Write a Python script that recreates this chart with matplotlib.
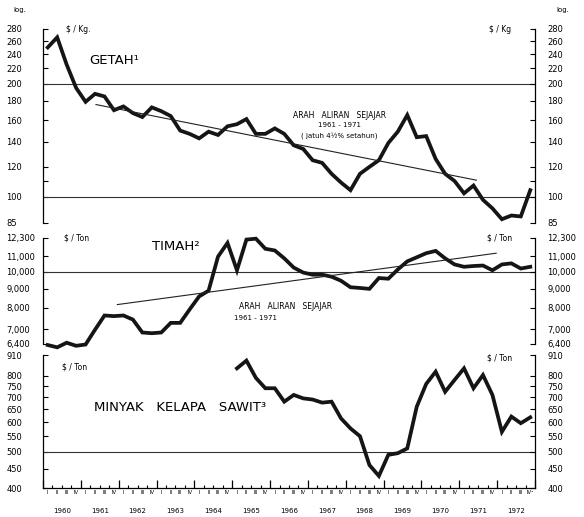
import numpy as np
import matplotlib
matplotlib.use("Agg")
import matplotlib.pyplot as plt
from matplotlib.ticker import FixedLocator, NullLocator, NullFormatter

plt.rcParams['font.family'] = ['DejaVu Sans']

# quarters 1960 I .. 1972 IV
years = list(range(1960, 1973))
quarters = ['I', 'II', 'III', 'IV']

# Getah (rubber), $/Kg, 52 quarters
getah = [250, 266, 225, 195, 179, 188, 185, 170, 174, 167, 163, 173, 169, 164,
         150, 147, 143, 149, 146, 154, 156, 161, 147, 147, 152, 147, 137, 134,
         125, 123, 115, 109, 104, 115, 120, 125, 139, 149, 165, 144, 145, 126,
         115, 110, 102, 107, 98, 93, 87, 89, 88.5, 104]
getah_trend_x = [5.6, 45.8]
getah_trend_y = [176, 110.6]

# Timah (tin), $/Ton
timah = [6360, 6270, 6450, 6330, 6380, 6990, 7630, 7600, 7630, 7440, 6870, 6840,
         6870, 7290, 7290, 7920, 8580, 8890, 10970, 11930, 10080, 12180, 12250,
         11510, 11390, 10850, 10250, 9940, 9810, 9810, 9690, 9450, 9080, 9040,
         8990, 9610, 9570, 10130, 10650, 10920, 11200, 11360, 10850, 10450, 10300,
         10350, 10380, 10080, 10450, 10520, 10190, 10300]
timah_trend_x = [7.86, 47.9]
timah_trend_y = [8160, 11200]

# Minyak kelapa sawit (palm oil), $/Ton, from 1965 I
sawit_start = 20
sawit = [838, 879, 790, 741, 741, 682, 711, 696, 691, 678, 682, 615, 578, 551,
         461, 431, 491, 496, 511, 661, 761, 821, 725, 780, 838, 741, 804, 711,
         566, 622, 597, 619]

getah_ticks = [85, 100, 110, 120, 140, 160, 180, 200, 220, 240, 260, 280]
getah_labels = ['85', '100', '', '120', '140', '160', '180', '200', '220', '240', '260', '280']
timah_ticks = [6400, 7000, 8000, 9000, 10000, 11000, 12300]
timah_labels = ['6,400', '7,000', '8,000', '9,000', '10,000', '11,000', '12,300']
sawit_ticks = [400, 450, 500, 550, 600, 650, 700, 750, 800, 910]
sawit_labels = ['400', '450', '500', '550', '600', '650', '700', '750', '800', '910']

W, H = 584, 517
fig = plt.figure(figsize=(W / 100, H / 100), dpi=100)

def frame(top, bottom):
    return [43 / W, 1 - bottom / H, 492 / W, (bottom - top) / H]

def setup(ax, lo, hi, ticks, labels, refs):
    ax.set_yscale('log')
    ax.set_xlim(0, 52)
    ax.set_ylim(lo, hi)
    ax.yaxis.set_major_locator(FixedLocator(ticks))
    ax.yaxis.set_minor_locator(NullLocator())
    ax.yaxis.set_minor_formatter(NullFormatter())
    ax.set_yticklabels(labels)
    ax.tick_params(axis='y', direction='in', length=3.5, width=0.8,
                   labelsize=6, pad=26.5)
    for lbl in ax.get_yticklabels():
        lbl.set_horizontalalignment('left')
    for s in ['top', 'bottom']:
        ax.spines[s].set_visible(False)
    for s in ['left', 'right']:
        ax.spines[s].set_linewidth(0.9)
    ax.set_xticks([])
    for r in refs:
        ax.axhline(r, color='#333333', lw=0.8)
    ax2 = ax.twinx()
    ax2.set_yscale('log')
    ax2.set_ylim(lo, hi)
    ax2.yaxis.set_major_locator(FixedLocator(ticks))
    ax2.yaxis.set_minor_locator(NullLocator())
    ax2.yaxis.set_minor_formatter(NullFormatter())
    ax2.set_yticklabels(labels)
    ax2.tick_params(axis='y', direction='in', length=3.5, width=0.8,
                    labelsize=6, pad=9)
    for s in ax2.spines.values():
        s.set_visible(False)
    return ax2

x = np.arange(52) + 0.5
line_kw = dict(color='#151515', lw=2.7, solid_joinstyle='miter', clip_on=False)

# --- Getah ---
ax1 = fig.add_axes(frame(29, 223))
setup(ax1, 85, 280, getah_ticks, getah_labels, [200, 100])
ax1.plot(x, getah, **line_kw)
ax1.plot(getah_trend_x, getah_trend_y, color='#222222', lw=0.8)
ax1.text(4.9, 231, 'GETAH\u00b9', fontsize=9.5, va='center', ha='left')
ax1.text(2.4, 280, '$ / Kg.', fontsize=5.5, va='center', ha='left')
ax1.text(48.3, 280, '$ / Kg', fontsize=5.5, va='center', ha='center')
ax1.text(31.3, 165, 'ARAH   ALIRAN   SEJAJAR', fontsize=5.5, va='center', ha='center')
ax1.text(31.3, 155, '1961 - 1971', fontsize=5, va='center', ha='center')
ax1.text(31.3, 145, '( jatuh 4\u00bd% setahun)', fontsize=5, va='center', ha='center')

# --- Timah ---
ax2 = fig.add_axes(frame(238, 344))
setup(ax2, 6400, 12300, timah_ticks, timah_labels, [10000])
ax2.plot(x, timah, **line_kw)
ax2.plot(timah_trend_x, timah_trend_y, color='#222222', lw=0.8)
ax2.text(11.5, 11700, 'TIMAH\u00b2', fontsize=9.5, va='center', ha='left')
ax2.text(2.2, 12300, '$ / Ton', fontsize=5.5, va='center', ha='left')
ax2.text(48.3, 12300, '$ / Ton', fontsize=5.5, va='center', ha='center')
ax2.text(25.6, 8075, 'ARAH   ALIRAN   SEJAJAR', fontsize=5.5, va='center', ha='center')
ax2.text(22.5, 7530, '1961 - 1971', fontsize=5, va='center', ha='center')

# --- Minyak kelapa sawit ---
ax3 = fig.add_axes(frame(355, 488))
setup(ax3, 400, 910, sawit_ticks, sawit_labels, [500])
ax3.spines['bottom'].set_visible(True)
ax3.spines['bottom'].set_linewidth(0.9)
ax3.plot(x[sawit_start:sawit_start + len(sawit)], sawit, **line_kw)
ax3.text(5.4, 656, 'MINYAK   KELAPA   SAWIT\u00b3', fontsize=9.5, va='center', ha='left')
ax3.text(2.0, 845, '$ / Ton', fontsize=5.5, va='center', ha='left')
ax3.text(48.3, 893, '$ / Ton', fontsize=5.5, va='center', ha='center')

ax3.set_xticks(np.arange(0, 53, 4))
ax3.set_xticks(np.arange(53), minor=True)
ax3.tick_params(axis='x', which='major', direction='in', length=5.5, width=0.9,
                labelbottom=False)
ax3.tick_params(axis='x', which='minor', direction='in', length=2.5, width=0.8)
tr = ax3.get_xaxis_transform()
for k, yr in enumerate(years):
    for q, name in enumerate(quarters):
        lab = name + ('\u2074' if (yr == 1972 and q == 3) else '')
        ax3.text(4 * k + q + 0.5, -0.012, lab, fontsize=3.8, ha='center',
                 va='top', transform=tr)
    ax3.text(4 * k + 2, -0.17, str(yr), fontsize=5, ha='center', va='center',
             transform=tr)

fig.text(20 / W, 1 - 10 / H, 'log.', fontsize=5, ha='center', va='center')
fig.text(563 / W, 1 - 10 / H, 'log.', fontsize=5, ha='center', va='center')

fig.savefig('out.png', dpi=100)
